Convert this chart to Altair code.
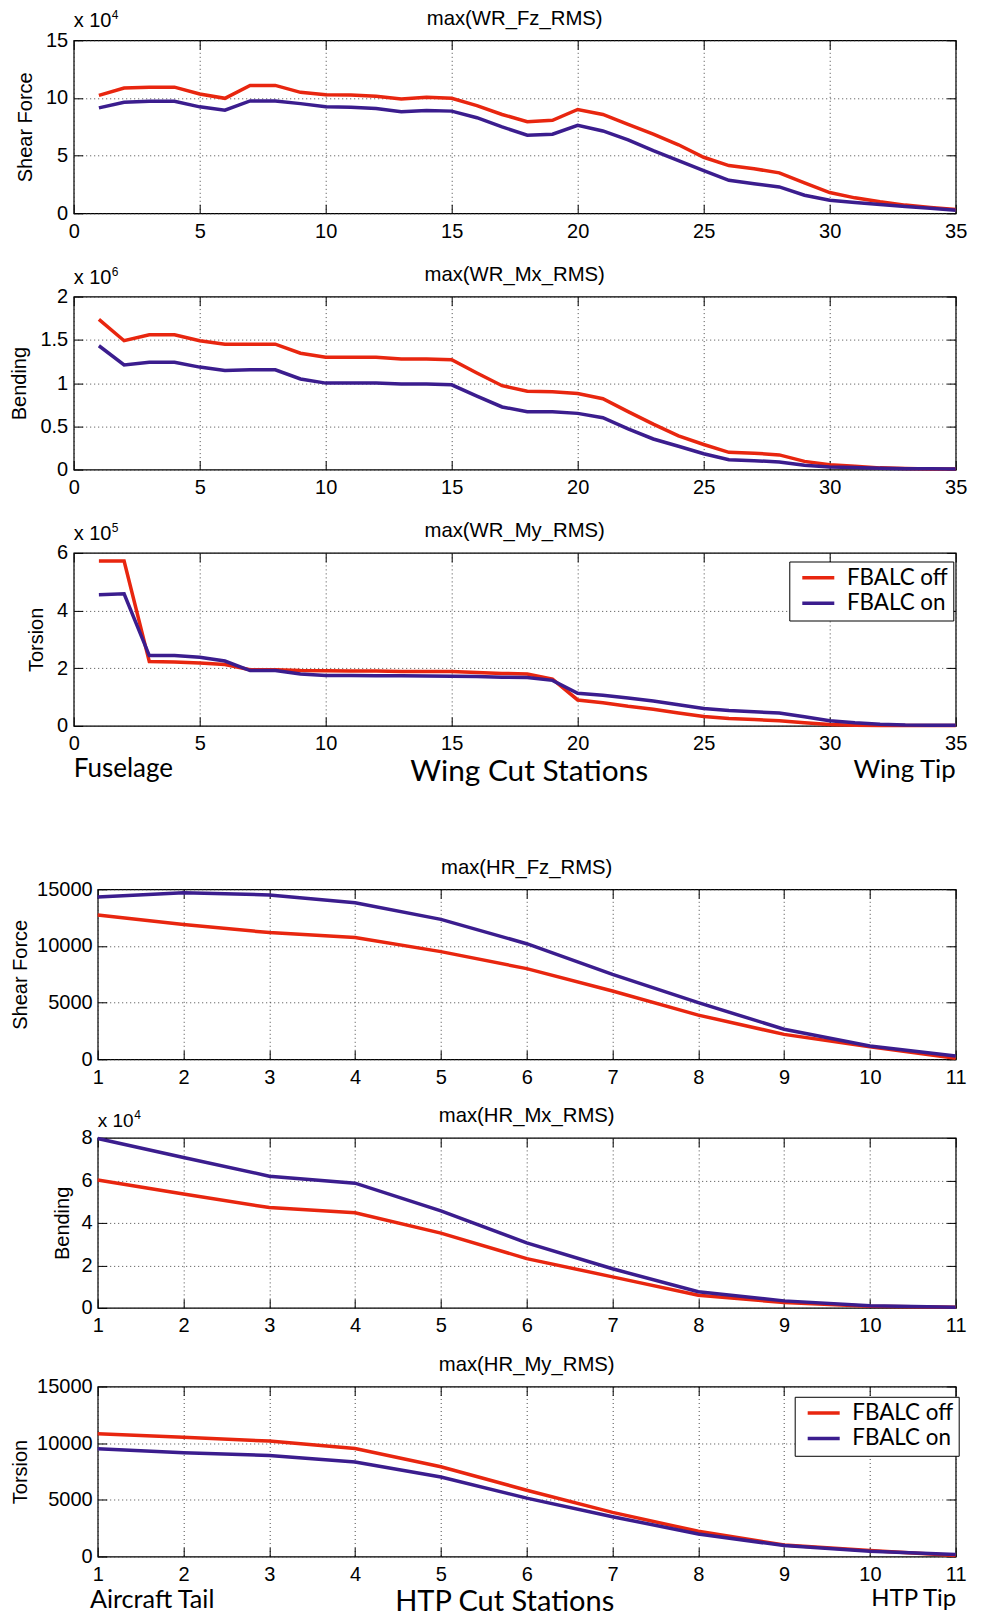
import altair as alt
import pandas as pd

# ------------------------------------------------------------------ data
wing_stations = list(range(1, 36))
htp_stations = list(range(1, 12))
series_names = ["FBALC off", "FBALC on"]
series_colors = ["#e8260f", "#3b1d8e"]

# wing shear force (x 10^4)
wr_fz_off = [10.23, 10.86, 10.94, 10.94, 10.34, 9.97, 11.09, 11.09, 10.49, 10.29,
             10.26, 10.14, 9.91, 10.06, 9.97, 9.34, 8.57, 7.94, 8.06, 9.0,
             8.57, 7.71, 6.86, 5.94, 4.86, 4.14, 3.86, 3.51, 2.63, 1.8,
             1.34, 1.0, 0.71, 0.51, 0.34]
wr_fz_on = [9.14, 9.63, 9.71, 9.71, 9.23, 8.94, 9.74, 9.74, 9.51, 9.23,
            9.2, 9.09, 8.8, 8.91, 8.86, 8.29, 7.49, 6.77, 6.86, 7.63,
            7.14, 6.37, 5.43, 4.57, 3.71, 2.86, 2.57, 2.29, 1.57, 1.14,
            0.94, 0.77, 0.6, 0.43, 0.26]
# wing bending (x 10^6)
wr_mx_off = [1.737, 1.49, 1.558, 1.558, 1.49, 1.45, 1.45, 1.45, 1.345, 1.3,
             1.3, 1.3, 1.28, 1.28, 1.27, 1.116, 0.97, 0.907, 0.9, 0.88,
             0.82, 0.67, 0.526, 0.39, 0.29, 0.2, 0.19, 0.17, 0.095, 0.057,
             0.038, 0.02, 0.012, 0.008, 0.008]
wr_mx_on = [1.432, 1.21, 1.24, 1.24, 1.185, 1.147, 1.154, 1.154, 1.048, 1.0,
            1.0, 1.0, 0.99, 0.99, 0.98, 0.85, 0.724, 0.67, 0.67, 0.65,
            0.6, 0.47, 0.354, 0.27, 0.183, 0.114, 0.103, 0.088, 0.05, 0.03,
            0.023, 0.015, 0.011, 0.011, 0.008]
# wing torsion (x 10^5)
wr_my_off = [5.72, 5.72, 2.23, 2.22, 2.18, 2.13, 1.95, 1.95, 1.92, 1.91,
             1.90, 1.90, 1.89, 1.89, 1.89, 1.85, 1.82, 1.80, 1.62, 0.90,
             0.80, 0.68, 0.58, 0.45, 0.33, 0.26, 0.22, 0.18, 0.11, 0.05,
             0.02, 0.01, 0.01, 0.01, 0.01]
wr_my_on = [4.55, 4.58, 2.44, 2.44, 2.38, 2.25, 1.92, 1.92, 1.80, 1.75,
            1.75, 1.74, 1.74, 1.73, 1.72, 1.71, 1.69, 1.68, 1.58, 1.13,
            1.06, 0.97, 0.86, 0.73, 0.60, 0.53, 0.49, 0.45, 0.32, 0.18,
            0.11, 0.06, 0.03, 0.02, 0.02]
# HTP shear force
hr_fz_off = [12730, 11900, 11180, 10740, 9500, 8000, 6030, 3900, 2200, 1100, 100]
hr_fz_on = [14320, 14700, 14500, 13820, 12350, 10200, 7500, 5000, 2650, 1180, 300]
# HTP bending (x 10^4)
hr_mx_off = [6.02, 5.36, 4.72, 4.48, 3.52, 2.32, 1.46, 0.6, 0.25, 0.08, 0.03]
hr_mx_on = [7.97, 7.08, 6.2, 5.87, 4.57, 3.06, 1.84, 0.76, 0.33, 0.1, 0.03]
# HTP torsion
hr_my_off = [10820, 10530, 10180, 9530, 7920, 5850, 3890, 2220, 1020, 530, 90]
hr_my_on = [9500, 9150, 8920, 8330, 7020, 5150, 3510, 1990, 960, 470, 180]

wing_xticks = [0, 5, 10, 15, 20, 25, 30, 35]
htp_xticks = list(range(1, 12))

FONT = "Liberation Sans"
CAL = "Lato"
TICK = 9


def text_layer(txt, px, py, align, size, font):
    return alt.Chart(pd.DataFrame({"t": [txt]})).mark_text(
        align=align, baseline="alphabetic", font=font, fontSize=size, color="black"
    ).encode(text="t:N", x=alt.value(px), y=alt.value(py))


def make_panel(stations, off, on, title, ytitle, ydomain, yticks, yfmt, xdomain, xticks,
               w, h, ytitle_x, ylab_pad, exponent=None, legend=None, xtitle=None,
               extra_texts=()):
    df = pd.DataFrame({
        "station": stations + stations,
        "value": off + on,
        "series": [series_names[0]] * len(stations) + [series_names[1]] * len(stations),
    })
    xs = alt.Scale(domain=xdomain, nice=False, zero=False)
    ys = alt.Scale(domain=ydomain, nice=False, zero=False)
    cscale = alt.Scale(domain=series_names, range=series_colors)
    if legend is None:
        color = alt.Color("series:N", scale=cscale, legend=None)
    else:
        color = alt.Color("series:N", scale=cscale, legend=legend)

    xkw = dict(values=xticks, grid=True, ticks=False, tickSize=0, domain=False,
               labelPadding=8, labelFlush=False, format="d")
    if xtitle is not None:
        x_axis = alt.Axis(title=xtitle[0], titleX=xtitle[1], titleY=xtitle[2],
                          titleFont=CAL, titleFontSize=xtitle[3], titleFontWeight="normal",
                          titleBaseline="alphabetic", titleAlign="center", titleColor="black",
                          **xkw)
    else:
        x_axis = alt.Axis(title=None, **xkw)
    y_axis = alt.Axis(values=yticks, grid=True, ticks=False, tickSize=0, domain=False,
                      labelPadding=ylab_pad, labelFlush=False, format=yfmt,
                      title=ytitle, titleX=ytitle_x, titleY=h / 2, titleAngle=270,
                      titleBaseline="alphabetic", titleAlign="center", titleFont=FONT,
                      titleFontSize=20, titleFontWeight="normal", titleColor="black")

    lines = alt.Chart(df).mark_line(strokeWidth=3.5).encode(
        x=alt.X("station:Q", scale=xs, axis=x_axis),
        y=alt.Y("value:Q", scale=ys, axis=y_axis),
        color=color,
    )
    tk = dict(labels=False, domain=False, grid=False, ticks=True, tickSize=TICK,
              offset=-TICK, title=None, tickColor="black", tickWidth=1)
    ticks_a = alt.Chart(df).mark_point(opacity=0, size=1).encode(
        x=alt.X("station:Q", scale=xs, axis=alt.Axis(orient="bottom", values=xticks, **tk)),
        y=alt.Y("value:Q", scale=ys, axis=alt.Axis(orient="left", values=yticks, **tk)),
    )
    ticks_b = alt.Chart(df).mark_point(opacity=0, size=1).encode(
        x=alt.X("station:Q", scale=xs, axis=alt.Axis(orient="top", values=xticks, **tk)),
        y=alt.Y("value:Q", scale=ys, axis=alt.Axis(orient="right", values=yticks, **tk)),
    )
    layers = [lines, ticks_a, ticks_b,
              text_layer(title, w / 2, -15.7, "center", 20.3, FONT)]
    if exponent is not None:
        layers.append(text_layer("x 10", 0, exponent[3], "left", exponent[1], FONT))
        layers.append(text_layer(exponent[0], exponent[2], exponent[3] - 8, "left", 12, FONT))
    for t in extra_texts:
        layers.append(text_layer(*t))

    return alt.layer(*layers).resolve_axis(x="independent", y="independent").properties(
        width=w, height=h)


def legend_at(lx, ly):
    return alt.Legend(orient="none", legendX=lx, legendY=ly, title=None,
                      symbolType="M-2,0H2", symbolSize=256, symbolStrokeWidth=3.5,
                      symbolOffset=12.8, symbolFillColor="transparent",
                      labelFont=CAL, labelFontSize=22.4, labelColor="black",
                      labelOffset=17.4, fillColor="white", strokeColor="black",
                      padding=5, rowPadding=2.5)


def spacer():
    return alt.Chart(pd.DataFrame({"s": [0]})).mark_point(opacity=0, size=1).encode(
        x=alt.value(0), y=alt.value(0)
    ).properties(width=1, height=1, view=alt.ViewBackground(strokeOpacity=0))


WW, WH = 882, 173
HW, HH = 858, 170

p1 = make_panel(wing_stations, wr_fz_off, wr_fz_on, "max(WR_Fz_RMS)", "Shear Force",
                [0, 15], [0, 5, 10, 15], "d", [0, 35], wing_xticks, WW, WH, -41.8, 6,
                exponent=("4", 20, 38, -13))
p2 = make_panel(wing_stations, wr_mx_off, wr_mx_on, "max(WR_Mx_RMS)", "Bending",
                [0, 2], [0, 0.5, 1, 1.5, 2], ".1~f", [0, 35], wing_xticks, WW, WH, -48.2, 6,
                exponent=("6", 20, 38, -13))
p3 = make_panel(wing_stations, wr_my_off, wr_my_on, "max(WR_My_RMS)", "Torsion",
                [0, 6], [0, 2, 4, 6], "d", [0, 35], wing_xticks, WW, WH, -30.8, 6,
                exponent=("5", 20, 38, -13), legend=legend_at(715.6, 8.6),
                xtitle=("Wing Cut Stations", 455, 55, 29.8),
                extra_texts=[("Fuselage", 0, WH + 51.5, "left", 26, CAL),
                             ("Wing Tip", WW, WH + 52, "right", 25.8, CAL)])

p4 = make_panel(htp_stations, hr_fz_off, hr_fz_on, "max(HR_Fz_RMS)", "Shear Force",
                [0, 15000], [0, 5000, 10000, 15000], "d", [1, 11], htp_xticks, HW, HH,
                -71.6, 5.5)
p5 = make_panel(htp_stations, hr_mx_off, hr_mx_on, "max(HR_Mx_RMS)", "Bending",
                [0, 8], [0, 2, 4, 6, 8], "d", [1, 11], htp_xticks, HW, HH, -29.5, 5.5,
                exponent=("4", 19, 36.5, -11))
p6 = make_panel(htp_stations, hr_my_off, hr_my_on, "max(HR_My_RMS)", "Torsion",
                [0, 15000], [0, 5000, 10000, 15000], "d", [1, 11], htp_xticks, HW, HH,
                -71.6, 5.5, legend=legend_at(697, 10.3),
                xtitle=("HTP Cut Stations", 406.5, 54, 29),
                extra_texts=[("Aircraft Tail", -7.8, HH + 52, "left", 25.2, CAL),
                             ("HTP Tip", HW + 0.5, HH + 50, "right", 24, CAL)])

wing = alt.vconcat(p1, p2, p3, spacing=83.3, bounds="flush").resolve_scale(color="independent")
htp = alt.vconcat(p4, p5, p6, spacing=78.6, bounds="flush").resolve_scale(color="independent")

wing_row = alt.concat(spacer(), wing, columns=2, spacing=0, align="none").resolve_scale(color="independent")
htp_row = alt.concat(spacer(), htp, columns=2, spacing=0, align="none").resolve_scale(color="independent")

chart = alt.vconcat(wing_row, htp_row, spacing=69).resolve_scale(color="independent").properties(
    padding={"left": -1.3, "top": -0.7, "right": 2, "bottom": 0},
    background="white",
).configure_view(
    stroke="black", strokeWidth=1.2
).configure_axis(
    labelFont=FONT, labelFontSize=20, labelColor="black",
    gridColor="#333333", gridDash=[1, 3], gridWidth=1, gridOpacity=0.9,
)

chart.save("out.html", embed_options={"renderer": "svg", "actions": False})
